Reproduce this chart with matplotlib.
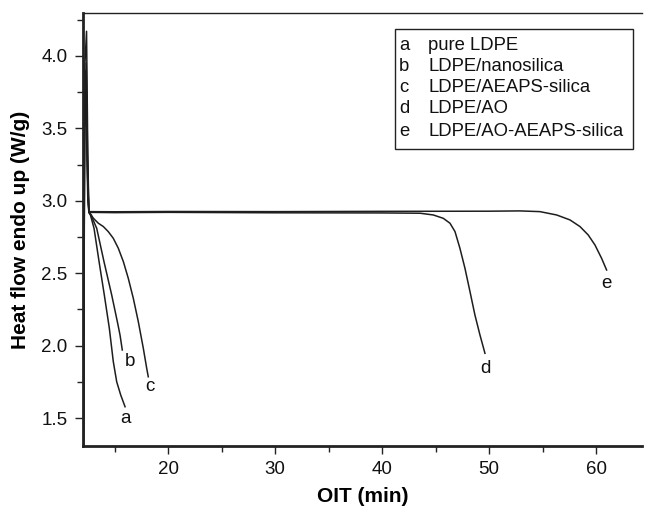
import matplotlib
matplotlib.use("Agg")
import matplotlib.pyplot as plt
from matplotlib.patches import Rectangle

plt.rcParams['font.family'] = ['Liberation Sans', 'DejaVu Sans']

# ---- data ----
letters = ["a", "b", "c", "d", "e"]
names = ["pure LDPE", "LDPE/nanosilica", "LDPE/AEAPS-silica", "LDPE/AO", "LDPE/AO-AEAPS-silica"]

a_x = [12.08, 12.2, 12.38, 12.5, 12.6, 12.75, 13.08, 13.55, 14.04, 14.51, 14.88, 15.20, 15.57, 15.98]
a_y = [1.20, 3.90, 4.17, 3.30, 2.92, 2.90, 2.81, 2.58, 2.35, 2.12, 1.89, 1.75, 1.66, 1.578]

b_x = [12.08, 12.22, 12.35, 12.5, 12.6, 12.8, 13.33, 14.01, 14.73, 15.26, 15.51, 15.72]
b_y = [1.20, 3.70, 3.95, 3.20, 2.92, 2.90, 2.81, 2.58, 2.35, 2.165, 2.073, 1.97]

c_x = [12.08, 12.2, 12.33, 12.5, 12.6, 12.75, 13.01, 13.48, 13.95, 14.41, 14.88, 15.35, 15.82,
       16.28, 16.75, 17.22, 17.69, 18.0, 18.15]
c_y = [1.20, 3.60, 3.85, 3.10, 2.92, 2.91, 2.88, 2.845, 2.822, 2.787, 2.741, 2.672, 2.58,
       2.465, 2.327, 2.165, 1.98, 1.845, 1.785]

d_x = [12.08, 12.2, 12.32, 12.5, 12.6, 15.0, 20.0, 30.0, 40.0, 43.55, 44.79, 45.72, 46.35,
       46.82, 47.28, 47.75, 48.22, 48.68, 49.15, 49.62]
d_y = [1.20, 3.50, 3.70, 3.00, 2.92, 2.918, 2.92, 2.917, 2.916, 2.914, 2.902, 2.879, 2.845,
       2.787, 2.672, 2.534, 2.373, 2.212, 2.074, 1.947]

e_x = [12.08, 12.18, 12.3, 12.5, 12.6, 15.0, 20.0, 30.0, 40.0, 50.0, 52.89, 54.76, 56.32,
       57.56, 58.50, 59.27, 59.90, 60.52, 60.99]
e_y = [1.20, 3.60, 3.90, 3.10, 2.925, 2.924, 2.926, 2.925, 2.927, 2.928, 2.93, 2.925, 2.902,
       2.868, 2.822, 2.764, 2.695, 2.603, 2.522]

label_x = [16.0, 16.44, 18.31, 49.62, 60.93]
label_y = [1.50, 1.89, 1.72, 1.843, 2.43]

xticks_major = [20, 30, 40, 50, 60]
yticks_major = [1.5, 2.0, 2.5, 3.0, 3.5, 4.0]

# ---- figure ----
fig = plt.figure(figsize=(6.47, 5.11), dpi=100)
ax = fig.add_axes([0.1283, 0.1272, 0.864, 0.847])

color = "#1e1e1e"
for xs, ys in [(a_x, a_y), (b_x, b_y), (c_x, c_y), (d_x, d_y), (e_x, e_y)]:
    ax.plot(xs, ys, color=color, lw=1.1, clip_on=True)

for lx, ly, t in zip(label_x, label_y, letters):
    ax.text(lx, ly, t, ha="center", va="center", fontsize=13.5, color="#111")

ax.set_xlim(12.05, 64.3)
ax.set_ylim(1.307, 4.295)
ax.set_xticks(xticks_major)
ax.set_xticks([15, 25, 35, 45, 55], minor=True)
ax.set_yticks(yticks_major)
ax.set_yticks([1.75, 2.25, 2.75, 3.25, 3.75, 4.25], minor=True)
ax.set_xticklabels([str(v) for v in xticks_major])
ax.set_yticklabels([f"{v:.1f}" for v in yticks_major])

ax.spines["right"].set_visible(False)
ax.spines["left"].set_linewidth(2.0)
ax.spines["bottom"].set_linewidth(2.0)
ax.spines["top"].set_linewidth(1.0)
for s in ax.spines.values():
    s.set_color("#222")

ax.tick_params(which="major", direction="out", length=6, width=1.0, labelsize=13.5, colors="#222", pad=5)
ax.tick_params(which="minor", direction="out", length=4, width=1.0, colors="#222")
ax.tick_params(axis="x", labelcolor="#111")
ax.tick_params(axis="y", labelcolor="#111")

ax.set_xlabel("OIT (min)", fontsize=15, fontweight="bold", labelpad=6)
ax.set_ylabel("Heat flow endo up (W/g)", fontsize=15, fontweight="bold", labelpad=8)

# legend-like box
box = Rectangle((395 / 647, 1 - 149.3 / 511), (633.3 - 395) / 647, (149.3 - 29.3) / 511,
                transform=fig.transFigure, fill=False, edgecolor="#222", lw=1.0)
fig.patches.append(box)
row_y = [45, 66.7, 87.3, 108.3, 131.7]
for yy, l, n in zip(row_y, letters, names):
    fig.text(404 / 647, 1 - yy / 511, l, ha="center", va="center", fontsize=13.3, color="#111")
    fig.text(428 / 647, 1 - yy / 511, n, ha="left", va="center", fontsize=13.3, color="#111")

fig.savefig("out.png", dpi=100)
